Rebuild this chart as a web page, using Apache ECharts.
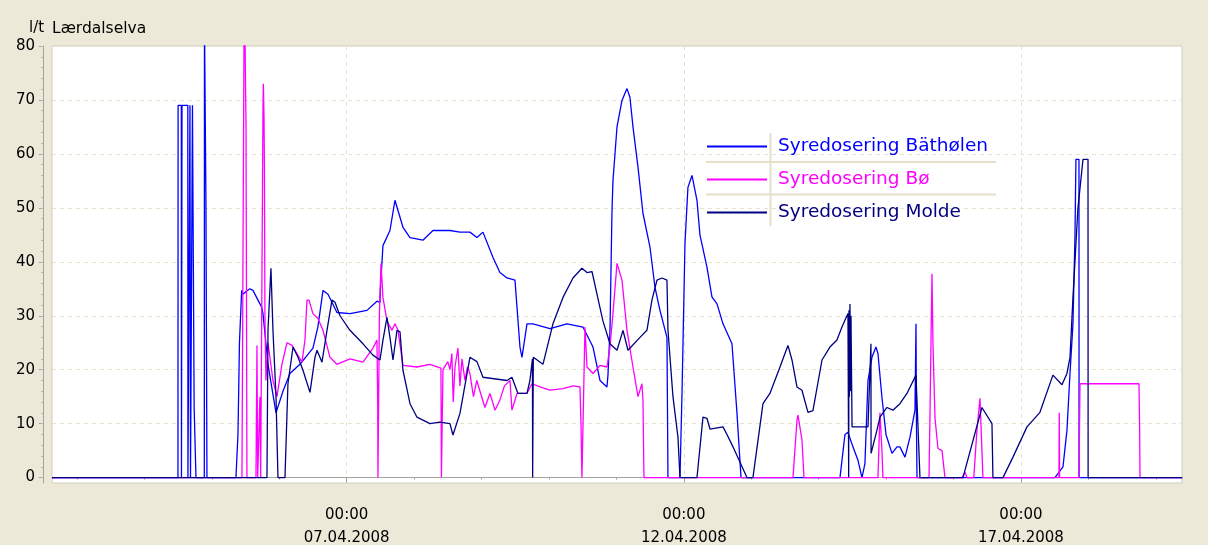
<!DOCTYPE html>
<html>
<head>
<meta charset="utf-8">
<script src="https://cdn.jsdelivr.net/npm/echarts@6/dist/echarts.min.js"></script>
<style>
  html, body { margin: 0; padding: 0; background: #ece9d8; }
  #chart { width: 1208px; height: 545px; }
</style>
</head>
<body>
<div id="chart"></div>
<script>
// x = day of April 2008 (fractional), y = l/t
const seriesNames = ['Syredosering Bäthølen', 'Syredosering Bø', 'Syredosering Molde'];
const seriesColors = ['#0000ff', '#ff00ff', '#000080'];

const dayTicks = [3, 4, 5, 6, 7, 8, 9, 10, 11, 12, 13, 14, 15, 16, 17, 18, 19];
const dayLabels = [7, 12, 17];
const yTicks = [0, 10, 20, 30, 40, 50, 60, 70, 80];
const yMinorTicks = [0, 2, 4, 6, 8, 10, 12, 14, 16, 18, 20, 22, 24, 26, 28, 30, 32, 34, 36, 38,
  40, 42, 44, 46, 48, 50, 52, 54, 56, 58, 60, 62, 64, 66, 68, 70, 72, 74, 76, 78, 80];

const bathoelen = [
  [2.63,0],[4.498,0],[4.50,69],[4.548,69],[4.55,0],[4.556,0],[4.558,69],[4.644,69],[4.646,0],[4.674,0],
  [4.676,69],[4.682,69],[4.684,0],[4.711,0],[4.713,69],[4.736,69],[4.738,13],[4.763,13],[4.765,0],[4.889,0],
  [4.891,85],[4.911,85],[4.913,51],[4.926,51],[4.928,0],[5.358,0],[5.388,8],[5.41,25],[5.443,34.7],[5.462,34],
  [5.507,34.5],[5.566,35],[5.610,34.7],[5.739,31.6],[5.759,30.4],[5.833,21],[5.952,12],[6.055,16],[6.159,19.3],
  [6.307,21],[6.5,24],[6.574,28],[6.649,34.7],[6.723,34],[6.856,30.6],[7.049,30.4],[7.301,31],[7.449,32.7],
  [7.494,32.5],[7.50,35],[7.538,43],[7.642,45.8],[7.716,51.4],[7.835,46.4],[7.939,44.5],[8.131,44],[8.280,45.8],
  [8.532,45.8],[8.680,45.5],[8.828,45.5],[8.932,44.5],[9.021,45.5],[9.170,40.8],[9.273,38],[9.377,37],[9.496,36.6],
  [9.570,24.2],[9.600,22.3],[9.674,28.5],[9.763,28.5],[10.015,27.6],[10.267,28.5],[10.504,27.9],[10.653,24.2],
  [10.757,18],[10.860,16.8],[10.875,19],[10.905,27.3],[10.934,49],[10.949,55],[11.009,65],[11.083,69.9],
  [11.157,72.1],[11.201,70.5],[11.246,65],[11.320,57.6],[11.394,49],[11.498,42.7],[11.572,35.3],[11.646,31],
  [11.750,26],[11.765,0],[11.943,0],[11.973,15.6],[12.017,43.4],[12.061,53.8],[12.121,56],[12.195,51.4],
  [12.239,45],[12.343,39],[12.417,33.5],[12.492,32.2],[12.581,28.5],[12.714,24.8],[12.729,24.8],[12.788,12],
  [12.848,0],[14.316,0],[14.390,8],[14.434,8.4],[14.508,5.7],[14.583,3.2],[14.642,0],[14.686,2.6],[14.731,18],
  [14.790,22.3],[14.849,24.2],[14.879,23],[14.938,14.9],[14.998,8],[15.087,4.5],[15.161,5.7],[15.205,5.7],
  [15.280,3.8],[15.354,7.5],[15.428,12.5],[15.443,28.5],[15.450,10],[15.458,0],[17.504,0],[17.623,2],
  [17.682,8.8],[17.727,19.3],[17.771,28.5],[17.801,45],[17.815,59],[17.860,59],[17.862,0],[19.39,0]
];

const boe = [
  [2.63,0],[5.447,0],[5.462,40],[5.477,80],[5.49,85],[5.50,72.7],[5.507,65.8],[5.515,30],[5.521,0],[5.655,0],
  [5.670,24.5],[5.680,0],[5.699,0],[5.714,15],[5.725,0],[5.744,0],[5.759,68.6],[5.765,73],[5.774,66.8],[5.780,58],
  [5.788,30],[5.803,18],[5.833,25],[5.907,18],[5.966,15],[6.040,21],[6.115,25],[6.189,24.5],[6.263,23],[6.337,21.4],
  [6.382,25.5],[6.411,32.9],[6.441,32.9],[6.500,30.4],[6.574,29.5],[6.649,27.3],[6.752,22.3],[6.856,21],[7.049,22],
  [7.242,21.4],[7.390,24],[7.449,25.5],[7.460,13.8],[7.464,0],[7.472,0],[7.485,30],[7.509,39.7],[7.538,33.4],
  [7.598,29],[7.672,27.3],[7.716,28.5],[7.761,27.3],[7.835,20.8],[8.043,20.5],[8.235,21],[8.398,20.3],[8.405,0],
  [8.413,0],[8.428,20],[8.50,21.5],[8.532,20],[8.56,23],[8.58,14],[8.606,20.5],[8.65,24],[8.680,17],[8.71,22],
  [8.754,18],[8.79,20.5],[8.828,19.3],[8.88,15],[8.93,18],[8.977,16],[9.05,13],[9.125,15.6],[9.2,12.5],[9.273,14.4],
  [9.34,17],[9.422,18],[9.451,12.5],[9.526,15.6],[9.674,15.6],[9.748,17.4],[9.867,16.8],[10.015,16.2],[10.208,16.5],
  [10.356,17],[10.460,16.8],[10.475,10],[10.489,0],[10.504,0],[10.534,27.9],[10.564,20.5],[10.653,19.3],
  [10.757,20.8],[10.860,20.5],[10.905,24.2],[10.949,30.4],[11.009,39.7],[11.083,36.6],[11.157,27.3],[11.246,20.5],
  [11.320,15],[11.379,17.4],[11.394,14.4],[11.409,0],[13.619,0],[13.678,10.6],[13.693,11.6],[13.752,7],[13.782,0],
  [14.879,0],[14.909,12],[14.938,5],[14.953,0],[15.636,0],[15.651,12],[15.680,37.8],[15.695,24.8],[15.725,11],
  [15.769,5.4],[15.829,5],[15.873,0],[16.125,0],[16.169,1],[16.20,0],[16.30,0],[16.347,8.8],[16.392,14.7],
  [16.436,0],[17.563,0],[17.568,12],[17.573,0],[17.860,0],[17.875,17.4],[18.750,17.4],[18.760,8.8],[18.765,0],
  [19.39,0]
];

const molde = [
  [2.63,0],[5.818,0],[5.833,27.3],[5.877,38.8],[5.907,27.3],[5.952,15],[5.981,0],[6.085,0],[6.129,17.4],
  [6.204,24.2],[6.278,22.3],[6.352,19.9],[6.456,15.8],[6.530,22.3],[6.560,23.6],[6.634,21.4],[6.708,27.3],
  [6.782,32.9],[6.827,32.5],[6.901,30],[7.049,27.3],[7.242,24.8],[7.390,22.7],[7.494,21.8],[7.538,25.5],
  [7.598,29.7],[7.642,26],[7.687,21.8],[7.746,27.3],[7.791,27],[7.835,19.9],[7.939,13.7],[8.043,11.2],[8.235,10],
  [8.383,10.3],[8.532,10],[8.576,7.9],[8.680,11.9],[8.828,22.3],[8.932,21.5],[9.021,18.6],[9.377,18],[9.451,18.6],
  [9.540,15.6],[9.674,15.6],[9.718,18],[9.755,22],[9.758,0],[9.763,0],[9.768,22.3],[9.911,21],[10.059,28.5],
  [10.208,33.4],[10.356,37],[10.489,38.8],[10.564,38],[10.638,38.2],[10.712,34],[10.801,29],[10.905,24.8],
  [11.009,23.6],[11.098,27.3],[11.172,23.6],[11.350,26],[11.453,27.3],[11.527,32.9],[11.602,36.6],[11.676,37],
  [11.750,36.6],[11.765,27.3],[11.839,15],[11.913,7.5],[11.943,0],[12.195,0],[12.284,11.2],[12.343,11],
  [12.388,9],[12.581,9.4],[12.640,8],[12.729,5.7],[12.936,0],[13.025,0],[13.174,13.7],[13.277,15.6],[13.426,20.5],
  [13.544,24.5],[13.604,21.8],[13.678,16.8],[13.752,16.2],[13.841,12.1],[13.915,12.4],[14.049,21.8],[14.167,24.2],
  [14.271,25.5],[14.345,27.9],[14.434,30.4],[14.445,0],[14.449,31],[14.455,15],[14.464,32.2],[14.470,16],
  [14.479,30],[14.490,15.6],[14.495,9.4],[14.731,9.4],[14.775,24.8],[14.777,4.5],[14.864,8.8],[14.909,11.2],
  [15.012,13],[15.101,12.5],[15.205,13.7],[15.309,15.6],[15.443,19],[15.502,0],[16.140,0],[16.421,13],
  [16.570,10],[16.584,0],[16.733,0],[16.881,3.8],[17.089,9.4],[17.281,12.1],[17.474,19],[17.608,17.2],
  [17.682,19.3],[17.727,22.3],[17.771,33.4],[17.845,50],[17.920,59],[17.994,59],[17.996,0],[19.39,0]
];

const seriesData = [bathoelen, boe, molde];

const font = 'DejaVu Sans';
const xMin = 2.63, xMax = 19.388;
const pad = n => (n < 10 ? '0' : '') + n;

const chart = echarts.init(document.getElementById('chart'));

chart.setOption({
  backgroundColor: '#ece9d8',
  animation: false,
  title: [
    { text: 'l/t', left: 29, top: 21, padding: 0,
      textStyle: { fontFamily: font, fontSize: 15, fontWeight: 'normal', color: '#000' } },
    { text: 'Lærdalselva', left: 52, top: 21, padding: 0,
      textStyle: { fontFamily: font, fontSize: 15.5, fontWeight: 'normal', color: '#000' } }
  ],
  legend: {
    orient: 'vertical',
    left: 706,
    top: 137,
    padding: 0,
    itemWidth: 60,
    itemHeight: 22,
    itemGap: 14,
    itemStyle: { opacity: 0 },
    data: seriesNames.map((n, i) => ({ name: n, textStyle: { color: seriesColors[i] } })),
    textStyle: { fontFamily: font, fontSize: 18.5, padding: [0, 0, 0, 6] }
  },
  graphic: [
    { type: 'line', shape: { x1: 706, y1: 162, x2: 996, y2: 162 }, style: { stroke: '#e4e0cc', lineWidth: 2 } },
    { type: 'line', shape: { x1: 706, y1: 194.5, x2: 996, y2: 194.5 }, style: { stroke: '#e4e0cc', lineWidth: 2 } },
    { type: 'line', shape: { x1: 770.5, y1: 133, x2: 770.5, y2: 226 }, style: { stroke: '#e4e0cc', lineWidth: 2 } }
  ],
  grid: {
    left: 52, right: 26, top: 46, bottom: 62,
    outerBoundsMode: 'none',
    show: true, backgroundColor: '#ffffff', borderColor: '#d0cebf', borderWidth: 1
  },
  xAxis: [
    {
      type: 'value', min: xMin, max: xMax, position: 'bottom', offset: 10,
      axisLine: { lineStyle: { color: '#a6a49a', width: 1 } },
      axisTick: { customValues: dayLabels, length: 5, lineStyle: { color: '#a6a49a' } },
      axisLabel: {
        customValues: dayLabels, margin: 11, color: '#000', fontFamily: font, fontSize: 15, lineHeight: 23,
        formatter: v => '00:00\n' + pad(Math.round(v)) + '.04.2008'
      },
      splitLine: { show: true, lineStyle: { color: '#e6e3cc', type: [4, 4], width: 1 } }
    },
    {
      type: 'value', min: xMin, max: xMax, position: 'bottom', offset: 10,
      axisLine: { show: false },
      axisTick: { customValues: dayTicks, length: 2, lineStyle: { color: '#a6a49a' } },
      axisLabel: { show: false },
      splitLine: { show: false }
    }
  ],
  yAxis: [
    {
      type: 'value', min: -1, max: 80, position: 'left', offset: 9,
      axisLine: { show: true, lineStyle: { color: '#a6a49a', width: 1 } },
      axisTick: { customValues: yTicks, length: 4, lineStyle: { color: '#a6a49a' } },
      axisLabel: { customValues: yTicks, margin: 8, color: '#000', fontFamily: font, fontSize: 15 },
      splitLine: { show: true, lineStyle: { color: '#e6e3cc', type: [4, 4], width: 1 } }
    },
    {
      type: 'value', min: -1, max: 80, position: 'left', offset: 9,
      axisLine: { show: false },
      axisTick: { customValues: yMinorTicks, length: 2, lineStyle: { color: '#bdbbb0' } },
      axisLabel: { show: false },
      splitLine: { show: false }
    }
  ],
  series: seriesNames.map((name, i) => ({
    name: name,
    type: 'line',
    xAxisIndex: 0,
    yAxisIndex: 0,
    data: seriesData[i],
    symbol: 'none',
    clip: true,
    lineStyle: { color: seriesColors[i], width: 1.3 },
    itemStyle: { color: seriesColors[i] }
  }))
});
</script>
</body>
</html>
